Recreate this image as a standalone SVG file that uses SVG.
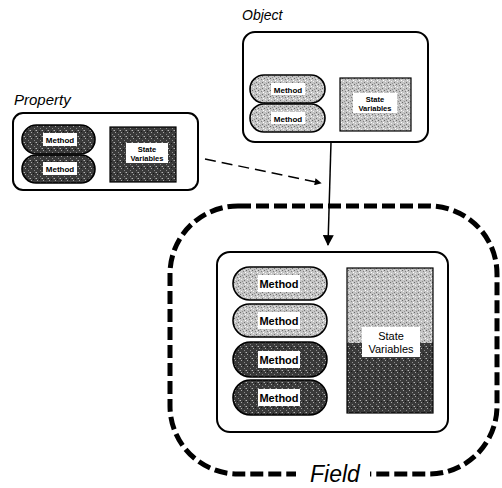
<svg xmlns="http://www.w3.org/2000/svg" width="502" height="488" viewBox="0 0 502 488">
  <style>
    .box { fill: #ffffff; stroke: #000; stroke-width: 2; }
    .pill { stroke: #000; stroke-width: 1.6; }
    .sv { stroke: #000; stroke-width: 1.2; }
    .light { fill: url(#stippleLight); }
    .dark { fill: url(#stippleDark); }
    .tag { fill: #ffffff; }
    .title { font-family: "Liberation Sans", Arial, sans-serif; font-style: italic; fill: #000; }
    .lbl { font-family: "Liberation Sans", Arial, sans-serif; font-weight: bold; fill: #000; text-anchor: middle; }
    .lbl.plain { font-weight: normal; }
    .conn { fill: none; stroke: #000; stroke-width: 1.5; }
    .field { fill: none; stroke: #000; stroke-width: 5; stroke-dasharray: 13 5; }
  </style>
  <defs>
    <!-- stippled halftone fills -->
    <pattern id="stippleLight" width="6" height="6" patternUnits="userSpaceOnUse">
      <rect width="6" height="6" fill="#c4c4c4"/>
      <rect x="0" y="0" width="1" height="1" fill="#6a6a6a"/>
      <rect x="3" y="1" width="1" height="1" fill="#808080"/>
      <rect x="1" y="3" width="1" height="1" fill="#f0f0f0"/>
      <rect x="4" y="4" width="1" height="1" fill="#707070"/>
      <rect x="2" y="5" width="1" height="1" fill="#949494"/>
      <rect x="5" y="2" width="1" height="1" fill="#ffffff"/>
      <rect x="4" y="0" width="1" height="1" fill="#e6e6e6"/>
    </pattern>
    <pattern id="stippleDark" width="6" height="6" patternUnits="userSpaceOnUse">
      <rect width="6" height="6" fill="#3a3a3a"/>
      <rect x="1" y="0" width="1" height="1" fill="#a8a8a8"/>
      <rect x="4" y="2" width="1" height="1" fill="#8c8c8c"/>
      <rect x="0" y="4" width="1" height="1" fill="#b4b4b4"/>
      <rect x="3" y="5" width="1" height="1" fill="#161616"/>
      <rect x="5" y="4" width="1" height="1" fill="#707070"/>
    </pattern>
    <marker id="head" viewBox="0 0 10 10" refX="9" refY="5" markerWidth="7" markerHeight="7" orient="auto" markerUnits="userSpaceOnUse">
      <path d="M0,0 L10,5 L0,10 z" fill="#000"/>
    </marker>
    <marker id="headBig" viewBox="0 0 10 10" refX="9" refY="5" markerWidth="14" markerHeight="11" orient="auto" markerUnits="userSpaceOnUse">
      <path d="M0,0 L10,5 L0,10 z" fill="#000"/>
    </marker>
  </defs>

  <!-- Field boundary -->
  <g id="field">
    <rect class="field" x="170" y="206" width="327" height="268" rx="68" ry="68"/>
    <rect x="296" y="465" width="74" height="16" fill="#ffffff"/>
    <text class="title" x="310" y="482" font-size="23">Field</text>
  </g>

  <!-- Property -->
  <g id="property">
    <text class="title" x="14" y="105" font-size="15">Property</text>
    <rect class="box" x="13" y="113" width="185" height="77" rx="10"/>
    <rect class="pill dark" x="22" y="125" width="73" height="29" rx="14.5"/>
    <rect class="tag" x="43" y="133" width="34" height="13"/>
    <text class="lbl" x="60" y="143" font-size="8">Method</text>
    <rect class="pill dark" x="22" y="155" width="73" height="28" rx="14"/>
    <rect class="tag" x="43" y="162" width="34" height="13"/>
    <text class="lbl" x="60" y="172" font-size="8">Method</text>
    <rect class="sv dark" x="110" y="127" width="66" height="55"/>
    <rect class="tag" x="126" y="143" width="42" height="20"/>
    <text class="lbl" x="147" y="152" font-size="7.5">State</text>
    <text class="lbl" x="147" y="161" font-size="7.5">Variables</text>
  </g>

  <!-- Object -->
  <g id="object">
    <text class="title" x="242" y="20" font-size="14">Object</text>
    <rect class="box" x="243" y="32" width="185" height="110" rx="12"/>
    <rect class="pill light" x="250" y="75" width="75" height="28" rx="14"/>
    <rect class="tag" x="271" y="83" width="34" height="12"/>
    <text class="lbl" x="288" y="92.5" font-size="8">Method</text>
    <rect class="pill light" x="250" y="104" width="75" height="28" rx="14"/>
    <rect class="tag" x="271" y="112" width="34" height="12"/>
    <text class="lbl" x="288" y="121.5" font-size="8">Method</text>
    <rect class="sv light" x="340" y="78" width="71" height="53"/>
    <rect class="tag" x="353" y="93" width="44" height="20"/>
    <text class="lbl" x="375" y="102" font-size="7.5">State</text>
    <text class="lbl" x="375" y="111" font-size="7.5">Variables</text>
  </g>

  <!-- Combined object inside the field -->
  <g id="field-object">
    <rect class="box" x="217" y="252" width="231" height="180" rx="13"/>
    <rect class="pill light" x="233" y="267" width="94" height="33" rx="16.5"/>
    <rect class="tag" x="258" y="275" width="42" height="17"/>
    <text class="lbl" x="279" y="288" font-size="11">Method</text>
    <rect class="pill light" x="233" y="304" width="94" height="33" rx="16.5"/>
    <rect class="tag" x="258" y="312" width="42" height="17"/>
    <text class="lbl" x="279" y="325" font-size="11">Method</text>
    <rect class="pill dark" x="233" y="342" width="94" height="35" rx="17.5"/>
    <rect class="tag" x="258" y="351" width="42" height="17"/>
    <text class="lbl" x="279" y="364" font-size="11">Method</text>
    <rect class="pill dark" x="233" y="380" width="94" height="35" rx="17.5"/>
    <rect class="tag" x="258" y="389" width="42" height="17"/>
    <text class="lbl" x="279" y="402" font-size="11">Method</text>
    <rect class="light" x="347" y="268" width="86" height="75"/>
    <rect class="dark" x="347" y="343" width="86" height="70"/>
    <rect class="sv" x="347" y="268" width="86" height="145" fill="none"/>
    <rect class="tag" x="362" y="327" width="58" height="30"/>
    <text class="lbl plain" x="391" y="340" font-size="11">State</text>
    <text class="lbl plain" x="391" y="353" font-size="11">Variables</text>
  </g>

  <!-- Connectors -->
  <g id="connectors">
    <line class="conn" x1="205" y1="159" x2="321" y2="183" stroke-dasharray="11 6" marker-end="url(#head)"/>
    <line class="conn" x1="331" y1="142" x2="328" y2="245" marker-end="url(#headBig)"/>
  </g>
</svg>
